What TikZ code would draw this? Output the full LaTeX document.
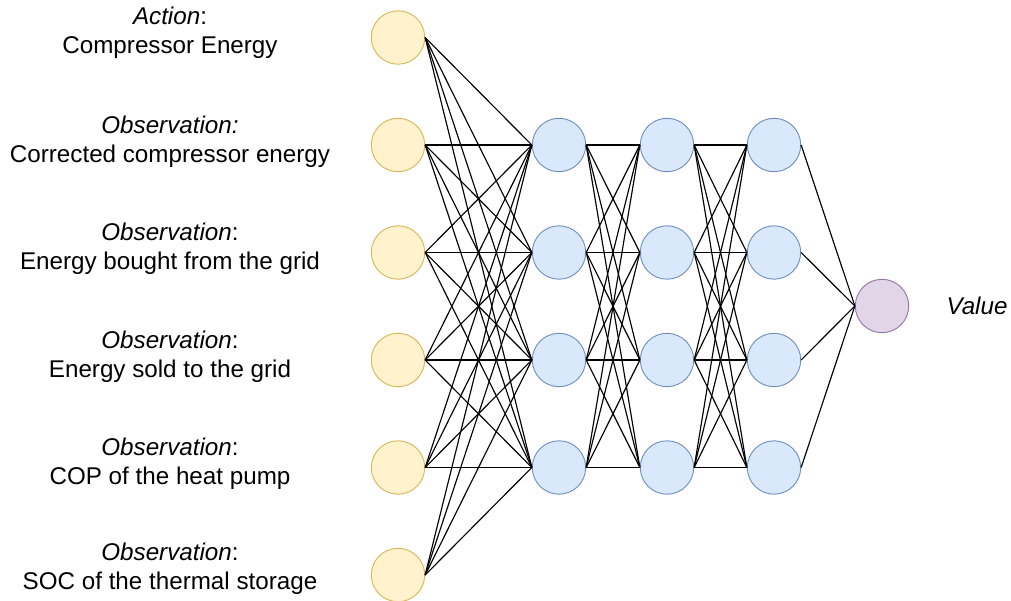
\documentclass[tikz,border=0pt]{standalone}
\usepackage{fontspec}
\setmainfont{Liberation Sans}
\definecolor{inpfill}{HTML}{FFF2CC}
\definecolor{inpdraw}{HTML}{D6B656}
\definecolor{hidfill}{HTML}{DAE8FC}
\definecolor{hiddraw}{HTML}{6C8EBF}
\definecolor{outfill}{HTML}{E1D5E7}
\definecolor{outdraw}{HTML}{9673A6}
\begin{document}
\begin{tikzpicture}[x=1pt,y=-1pt,
  neuron/.style={circle,minimum size=53.4pt,inner sep=0pt,line width=0.9pt},
  inp/.style={neuron,draw=inpdraw,fill=inpfill},
  hid/.style={neuron,draw=hiddraw,fill=hidfill},
  outn/.style={neuron,draw=outdraw,fill=outfill},
  lab/.style={align=center,font=\fontsize{24.2}{29}\selectfont,inner sep=0pt},
  conn/.style={line width=1.15pt,black}]
\useasboundingbox (0,0) rectangle (1011,601);
% input layer
\foreach \i/\y in {1/37.5,2/145,3/252.5,4/360,5/467.5,6/575}
  \node[inp] (i\i) at (398,\y) {};
% hidden layers
\foreach \i/\y in {1/145,2/252.5,3/360,4/467.5}{
  \node[hid] (a\i) at (559,\y) {};
  \node[hid] (b\i) at (667,\y) {};
  \node[hid] (c\i) at (774,\y) {};
}
\node[outn] (o) at (882,306) {};
% labels
\node[lab] (l1) at (170,33) {\textit{Action}:\\Compressor Energy};
\node[lab] (l2) at (170,142) {\textit{Observation:}\\Corrected compressor energy};
\node[lab] (l3) at (170,249) {\textit{Observation}:\\Energy bought from the grid};
\node[lab] (l4) at (170,357) {\textit{Observation}:\\Energy sold to the grid};
\node[lab] (l5) at (170,464) {\textit{Observation}:\\COP of the heat pump};
\node[lab] (l6) at (170,569) {\textit{Observation}:\\SOC of the thermal storage};
\node[lab] (val) at (977,306) {\textit{Value}};
% connections
\foreach \s in {1,...,6}
  \foreach \t in {1,...,4}
    \draw[conn] (i\s.east) -- (a\t.west);
\foreach \s in {1,...,4}
  \foreach \t in {1,...,4}{
    \draw[conn] (a\s.east) -- (b\t.west);
    \draw[conn] (b\s.east) -- (c\t.west);
  }
\foreach \s in {1,...,4}
  \draw[conn] (c\s.east) -- (o.west);
\end{tikzpicture}
\end{document}
